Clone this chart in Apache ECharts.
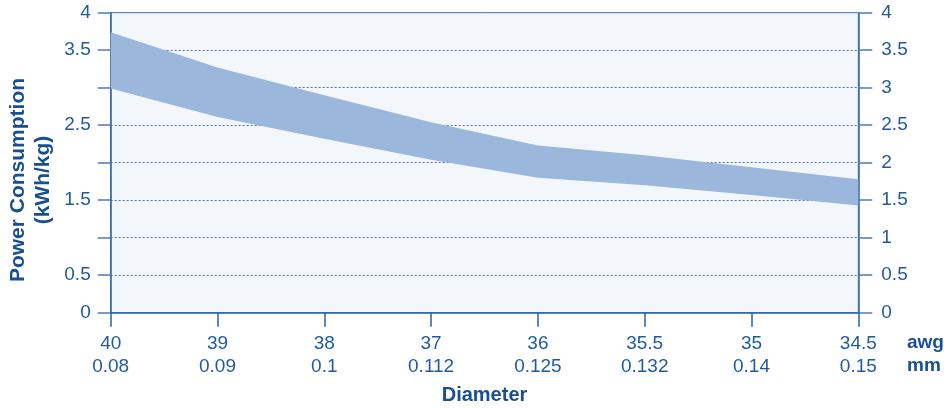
<!DOCTYPE html>
<html><head><meta charset="utf-8">
<script src="https://cdn.jsdelivr.net/npm/echarts@6/dist/echarts.min.js"></script>
<style>html,body{margin:0;padding:0;background:#fff}#c{width:944px;height:408px}</style>
</head><body><div id="c"></div>
<script>
const awg = ['40','39','38','37','36','35.5','35','34.5'];
const mm = ['0.08','0.09','0.1','0.112','0.125','0.132','0.14','0.15'];
const upper = [3.74, 3.27, 2.90, 2.54, 2.23, 2.10, 1.94, 1.78];
const lower = [2.99, 2.61, 2.32, 2.04, 1.80, 1.70, 1.57, 1.43];
const yTicks = [0, 0.5, 1, 1.5, 2, 2.5, 3, 3.5, 4];
const leftHidden = [1, 2, 3];

const cats = awg.map((a, i) => a + '\n' + mm[i]);
const band = upper.map((u, i) => +(u - lower[i]).toFixed(3));

const textColor = '#1f5a9e';
const boldColor = '#184f91';
const axisColor = '#2a63a8';
const font = 'Liberation Sans, Arial, sans-serif';

const chart = echarts.init(document.getElementById('c'));
chart.setOption({
  animation: false,
  grid: {left: 110.7, right: 85.7, top: 12.7, bottom: 95.3, show: true,
         containLabel: false, outerBoundsMode: 'none',
         backgroundColor: '#f3f7fb', borderColor: '#5d86bb', borderWidth: 1},
  xAxis: {
    type: 'category', data: cats, boundaryGap: false,
    axisLine: {lineStyle: {color: axisColor, width: 1.5}},
    axisTick: {length: 14, lineStyle: {color: axisColor, width: 1.5}},
    axisLabel: {color: textColor, fontSize: 19, fontFamily: font, lineHeight: 23, margin: 20},
    name: 'Diameter', nameLocation: 'middle', nameGap: 73,
    nameTextStyle: {color: boldColor, fontSize: 20, fontWeight: 'bold', fontFamily: font}
  },
  yAxis: [{
    type: 'value', min: 0, max: 4, interval: 0.5, position: 'left',
    axisLine: {show: true, lineStyle: {color: axisColor, width: 1.5}},
    axisTick: {show: true, length: 13, lineStyle: {color: '#4d7cb8', width: 1.5}},
    axisLabel: {color: textColor, fontSize: 19, fontFamily: font, margin: 20,
      formatter: v => leftHidden.indexOf(v) >= 0 ? '' : String(v)},
    splitLine: {show: true, lineStyle: {color: '#4a76b0', type: [2, 2], width: 1}}
  }, {
    type: 'value', min: 0, max: 4, interval: 0.5, position: 'right',
    axisLine: {show: true, lineStyle: {color: axisColor, width: 1.5}},
    axisTick: {show: true, length: 14, lineStyle: {color: '#4d7cb8', width: 1.5}},
    axisLabel: {color: textColor, fontSize: 19, fontFamily: font, margin: 23,
      formatter: v => String(v)},
    splitLine: {show: false}
  }],
  graphic: [
    {type: 'text', left: 907, top: 333, style: {text: 'awg', fill: boldColor, font: 'bold 19px ' + font}},
    {type: 'text', left: 907, top: 356, style: {text: 'mm', fill: boldColor, font: 'bold 19px ' + font}},
    {type: 'text', x: 31, y: 180, rotation: Math.PI / 2,
     style: {text: 'Power Consumption\n(kWh/kg)', fill: boldColor, font: 'bold 21px ' + font,
             align: 'center', verticalAlign: 'middle', lineHeight: 25}}
  ],
  series: [
    {type: 'line', data: lower, stack: 'b', symbol: 'none', lineStyle: {width: 0}, z: 3, silent: true},
    {type: 'line', data: band, stack: 'b', symbol: 'none', lineStyle: {width: 0},
     areaStyle: {color: '#9bb8dc', opacity: 1}, z: 3, silent: true}
  ]
});
</script></body></html>
